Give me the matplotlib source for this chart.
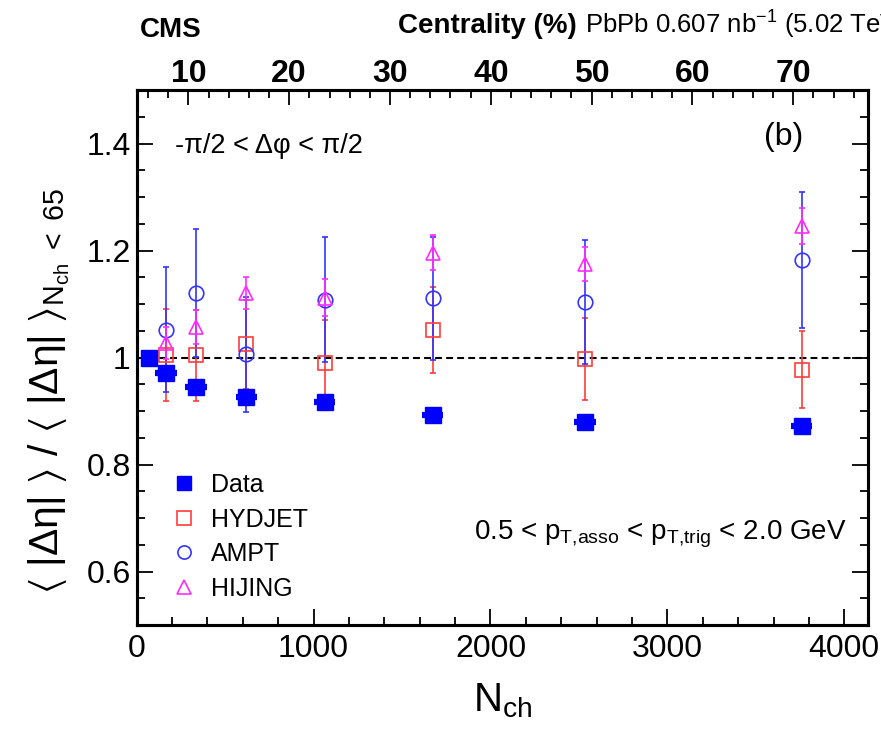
import numpy as np
import matplotlib
matplotlib.use('Agg')
import matplotlib.pyplot as plt
from matplotlib.lines import Line2D
from matplotlib.ticker import MultipleLocator, FuncFormatter

plt.rcParams['font.family'] = ['Liberation Sans', 'DejaVu Sans']
plt.rcParams['mathtext.fontset'] = 'custom'
plt.rcParams['mathtext.rm'] = 'Liberation Sans'
plt.rcParams['mathtext.it'] = 'Liberation Sans'
plt.rcParams['mathtext.bf'] = 'Liberation Sans:bold'
plt.rcParams['mathtext.fallback'] = 'stixsans'

# values
nch = [68, 165, 335, 620, 1062, 1673, 2534, 3760]
data = [1.0, 0.972, 0.944, 0.927, 0.917, 0.893, 0.879, 0.872]
data_xerr = [0, 60, 60, 60, 60, 60, 60, 60]

hydjet = [1.0, 1.004, 1.004, 1.025, 0.989, 1.051, 0.997, 0.977]
hydjet_err = [0, 0.086, 0.085, 0.083, 0.082, 0.080, 0.077, 0.072]

ampt = [1.0, 1.052, 1.121, 1.006, 1.108, 1.111, 1.104, 1.183]
ampt_err = [0, 0.117, 0.120, 0.107, 0.117, 0.115, 0.116, 0.127]

hijing = [1.0, 1.027, 1.057, 1.121, 1.112, 1.196, 1.175, 1.246]
hijing_err = [0, 0.030, 0.032, 0.030, 0.035, 0.033, 0.032, 0.034]

centrality_ticks = [10, 20, 30, 40, 50, 60, 70]

RED = '#ff3c3c'
BLUE = '#3434ff'
MAGENTA = '#ff2cff'
W, H = 881, 738


def fpos(x, y):
    # pixel position in the picture -> figure fraction
    return x / W, 1 - y / H


fig = plt.figure(figsize=(8.81, 7.38), dpi=100)
ax = fig.add_axes([0.1552, 0.1531, 0.8306, 0.7249])

ax.axhline(1.0, color='black', ls=(0, (3.3, 2)), lw=1.5, zorder=1)

models = [
    (hydjet, hydjet_err, 's', RED),
    (ampt, ampt_err, 'o', BLUE),
    (hijing, hijing_err, '^', MAGENTA),
]
for vals, errs, mk, col in models:
    ax.errorbar(nch, vals, yerr=errs, fmt=mk, ms=10.5, mfc='none', mec=col, mew=1.2,
                ecolor=col, elinewidth=1.2, capsize=2.3, capthick=1.2, zorder=2)

ax.errorbar(nch, data, xerr=data_xerr, fmt='s', ms=11, color='#0000ff',
            elinewidth=4.5, capsize=0, zorder=3)

ax.set_xlim(0, 4137)
ax.set_ylim(0.5, 1.5)
ax.xaxis.set_major_locator(MultipleLocator(1000))
ax.xaxis.set_minor_locator(MultipleLocator(200))
ax.yaxis.set_major_locator(MultipleLocator(0.2))
ax.yaxis.set_minor_locator(MultipleLocator(0.05))
ax.yaxis.set_major_formatter(FuncFormatter(lambda v, p: f'{v:g}'))

# top axis with centrality
top = ax.twiny()
top.set_xlim(4.88, 77.46)
top.set_xticks(centrality_ticks)
top.xaxis.set_minor_locator(MultipleLocator(2))
top.tick_params(axis='x', which='both', direction='in', top=True, bottom=False,
                labeltop=True, labelbottom=False, labelsize=23, pad=1)
top.tick_params(axis='x', which='major', length=10.8, width=1.3)
top.tick_params(axis='x', which='minor', length=5.8, width=1.3)
for lbl in top.get_xticklabels():
    lbl.set_fontweight('bold')

ax.tick_params(which='both', direction='in', left=True, right=True, top=False,
               bottom=True, labelsize=23, width=1.3)
ax.tick_params(which='major', length=11.5)
ax.tick_params(which='minor', length=5.8)
ax.tick_params(axis='y', pad=4.3)
ax.tick_params(axis='x', pad=6.5)

for a in (ax, top):
    for s in a.spines.values():
        s.set_linewidth(2.2)

ax.set_xlabel(r'$\mathrm{N_{ch}}$', fontsize=29)
ax.xaxis.set_label_coords(0.5, -0.105)
ax.set_ylabel(r'$\langle\ |\Delta\eta|\ \rangle\ /\ \langle\ |\Delta\eta|\ \rangle_{N_{ch}\ <\ 65}$',
              fontsize=29.5)
ax.yaxis.set_label_coords(-0.088, 0.437)

# legend, markers only
handles = [
    Line2D([], [], ls='none', marker='s', ms=9.5, color='#0000ff'),
    Line2D([], [], ls='none', marker='s', ms=9.5, mfc='none', mec=RED, mew=1.2),
    Line2D([], [], ls='none', marker='o', ms=9.5, mfc='none', mec=BLUE, mew=1.2),
    Line2D([], [], ls='none', marker='^', ms=9.5, mfc='none', mec=MAGENTA, mew=1.2),
]
ax.legend(handles, ['Data', 'HYDJET', 'AMPT', 'HIJING'], loc='upper left',
          bbox_to_anchor=(0.048, 0.284), frameon=False, fontsize=18,
          handlelength=0.95, handletextpad=0.62, labelspacing=0.42,
          borderpad=0, borderaxespad=0)

fig.text(*fpos(140, 37), 'CMS', fontsize=20, fontweight='bold', va='baseline')
fig.text(*fpos(398, 33), 'Centrality (%)', fontsize=20, fontweight='bold', va='baseline')
fig.text(*fpos(585, 34), r'PbPb 0.607 nb$^{-1}$ (5.02 TeV)', fontsize=18.5, va='baseline')
fig.text(*fpos(175, 146), '-π/2 < Δφ < π/2', fontsize=19.5, va='center')
fig.text(*fpos(803, 137), '(b)', fontsize=23, ha='right', va='center')
fig.text(*fpos(847, 540),
         r'0.5 < p$_{\mathrm{T{,}asso}}$ < p$_{\mathrm{T{,}trig}}$ < 2.0 GeV',
         fontsize=20, ha='right', va='baseline')

fig.savefig('out.png', dpi=100)
